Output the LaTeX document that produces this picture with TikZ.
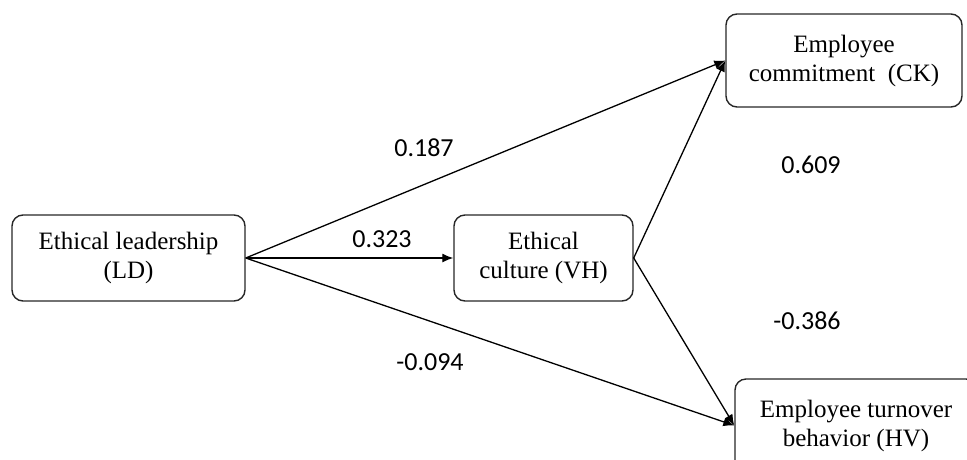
\documentclass[tikz,border=0pt]{standalone}
\usepackage{fontspec}
\setmainfont{Liberation Serif}
\newfontfamily\labfont{Carlito}
\usetikzlibrary{arrows.meta}
\begin{document}
\begin{tikzpicture}[x=1pt,y=-1pt,
  box/.style={draw=black!85,line width=1.4pt,rounded corners=11pt,align=center,
    font=\fontsize{25}{29}\selectfont,inner sep=0pt},
  lab/.style={font=\labfont\fontsize{26}{30}\selectfont,inner sep=0pt},
  arr/.style={line width=1.3pt,-{Latex[length=11pt,width=9pt]}}]
\useasboundingbox (0,0) rectangle (967,459);
\node[box,minimum width=233pt,minimum height=86pt] (LD) at (128.5,258) {Ethical leadership\\(LD)};
\node[box,minimum width=179pt,minimum height=86pt] (VH) at (543.5,258) {Ethical\\culture (VH)};
\node[box,minimum width=236pt,minimum height=93pt] (CK) at (844,60.5) {Employee\\commitment\ \ (CK)};
\node[box,minimum width=242pt,minimum height=93pt] (HV) at (856,425.5) {Employee turnover\\behavior (HV)};
\draw[arr] (LD.east) -- (CK.west);
\draw[arr] (LD.east) -- (VH.west);
\draw[arr] (LD.east) -- (HV.west);
\draw[arr] (VH.east) -- (CK.west);
\draw[arr] (VH.east) -- (HV.west);
\node[lab] (l1) at (424,148) {0.187};
\node[lab] (l2) at (382,239) {0.323};
\node[lab] (l3) at (430,362) {-0.094};
\node[lab] (l4) at (811,165) {0.609};
\node[lab] (l5) at (807,321) {-0.386};
\end{tikzpicture}
\end{document}
